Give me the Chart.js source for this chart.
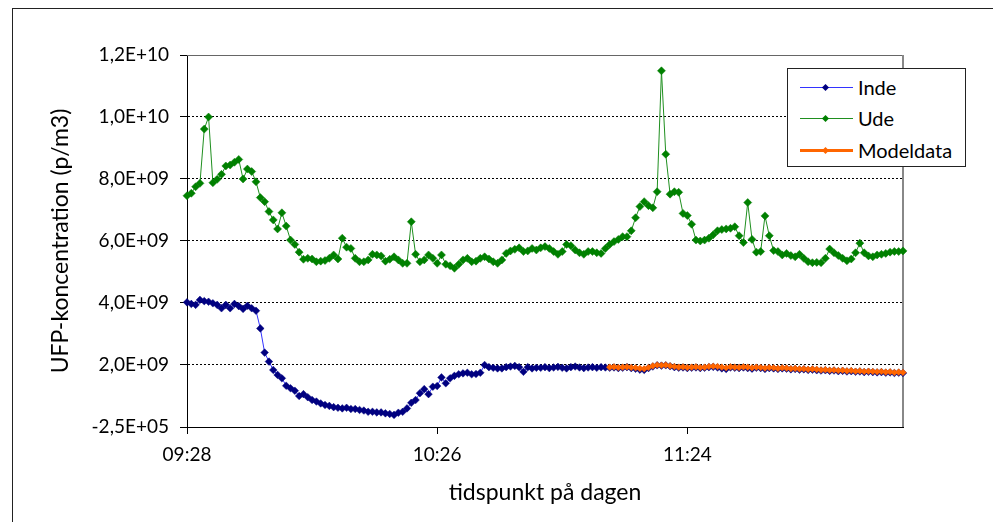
<!DOCTYPE html>
<html>
<head>
<meta charset="utf-8">
<script src="https://cdn.jsdelivr.net/npm/chart.js"></script>
<style>
  body { margin: 0; background: #fff; }
  #wrap { position: relative; width: 993px; height: 522px; overflow: hidden; background: #fff; }
  #frame { position: absolute; left: 12px; top: 8px; width: 1100px; height: 600px;
           border-left: 1px solid #222; border-top: 1px solid #222; }
  canvas { position: absolute; left: 0; top: 0; }
  #legend { position: absolute; left: 787px; top: 68px; width: 179px; height: 99px;
            border: 1px solid #222; background: #fff; box-sizing: border-box;
            font-family: Lato, sans-serif; font-size: 20px; color: #000; }
  .item { position: absolute; left: 0; width: 100%; height: 22px; }
  .item .ln { position: absolute; left: 12px; width: 53px; }
  .item .pt { position: absolute; left: 35px; width: 5px; height: 5px; transform: rotate(45deg); }
  .item .tx { position: absolute; left: 70px; top: 0; line-height: 22px; }
</style>
</head>
<body>
<div id="wrap">
  <div id="frame"></div>
  <canvas id="chart" width="993" height="522"></canvas>
  <div id="legend"></div>
</div>
<script>
// values in units of 1E9 particles per m3, one sample per minute from 09:28
const startTime = '09:28';

const ude = [
  7.46, 7.54, 7.75, 7.86, 9.61, 10.0, 7.88, 7.99, 8.15, 8.42,
  8.45, 8.54, 8.63, 8.00, 8.32, 8.24, 7.91, 7.40, 7.27, 6.95,
  6.68, 6.39, 6.91, 6.48, 6.03, 5.89, 5.64, 5.41, 5.44, 5.42,
  5.33, 5.35, 5.37, 5.44, 5.55, 5.42, 6.09, 5.80, 5.76, 5.44,
  5.33, 5.33, 5.39, 5.57, 5.55, 5.52, 5.35, 5.41, 5.49, 5.39,
  5.28, 5.28, 6.62, 5.57, 5.33, 5.39, 5.55, 5.44, 5.28, 5.55,
  5.25, 5.20, 5.12, 5.25, 5.39, 5.44, 5.33, 5.35, 5.44, 5.49,
  5.42, 5.33, 5.28, 5.39, 5.60, 5.68, 5.73, 5.78, 5.66, 5.68,
  5.76, 5.71, 5.78, 5.82, 5.76, 5.66, 5.57, 5.66, 5.89, 5.85,
  5.71, 5.62, 5.57, 5.66, 5.66, 5.62, 5.60, 5.76, 5.89, 5.98,
  6.05, 6.14, 6.14, 6.33, 6.75, 7.11, 7.27, 7.14, 7.07, 7.59,
  11.49, 8.80, 7.51, 7.59, 7.57, 6.89, 6.82, 6.54, 6.03, 6.00,
  6.03, 6.09, 6.20, 6.33, 6.37, 6.39, 6.41, 6.46, 6.17, 5.95,
  7.24, 6.05, 5.64, 5.66, 6.81, 6.17, 5.69, 5.66, 5.55, 5.60,
  5.53, 5.49, 5.57, 5.44, 5.33, 5.30, 5.31, 5.30, 5.44, 5.74,
  5.62, 5.53, 5.44, 5.36, 5.42, 5.62, 5.93, 5.62, 5.52, 5.49,
  5.55, 5.57, 5.60, 5.64, 5.66, 5.66, 5.68
];

const inde = [
  4.02, 3.97, 3.94, 4.10, 4.06, 4.04, 3.99, 3.94, 3.83, 3.94,
  3.83, 3.97, 3.90, 3.81, 3.91, 3.83, 3.75, 3.18, 2.40, 2.11,
  1.84, 1.68, 1.57, 1.33, 1.25, 1.17, 1.00, 1.06, 0.96, 0.87,
  0.82, 0.76, 0.71, 0.68, 0.64, 0.62, 0.60, 0.62, 0.58, 0.58,
  0.55, 0.53, 0.49, 0.49, 0.47, 0.47, 0.44, 0.42, 0.39, 0.46,
  0.49, 0.60, 0.78, 0.87, 1.09, 1.22, 1.06, 1.30, 1.32, 1.60,
  1.41, 1.57, 1.65, 1.70, 1.73, 1.75, 1.70, 1.71, 1.75, 2.00,
  1.93, 1.91, 1.89, 1.89, 1.93, 1.95, 1.97, 1.93, 1.78, 1.93,
  1.89, 1.91, 1.91, 1.93, 1.90, 1.92, 1.94, 1.91, 1.89, 1.93,
  1.95, 1.92, 1.90, 1.92, 1.93, 1.91, 1.93, 1.92, 1.91, 1.92,
  1.90, 1.91, 1.93, 1.90, 1.88, 1.85, 1.84, 1.90, 1.95, 1.99,
  1.98, 1.99, 1.96, 1.93, 1.91, 1.92, 1.90, 1.91, 1.92, 1.90,
  1.91, 1.93, 1.94, 1.92, 1.89, 1.87, 1.92, 1.91, 1.90, 1.92,
  1.90, 1.88, 1.91, 1.90, 1.87, 1.90, 1.89, 1.87, 1.89, 1.88,
  1.86, 1.87, 1.85, 1.86, 1.84, 1.85, 1.83, 1.82, 1.83, 1.81,
  1.82, 1.80, 1.81, 1.79, 1.80, 1.78, 1.79, 1.77, 1.78, 1.77,
  1.76, 1.77, 1.75, 1.76, 1.74, 1.75, 1.74
];

// model series starts at sample 98 (11:06)
const modelStart = 98;
const modeldata = [
  1.93, 1.94, 1.92, 1.93, 1.94, 1.92, 1.91, 1.89, 1.88, 1.92,
  1.97, 2.00, 1.99, 2.00, 1.97, 1.95, 1.93, 1.94, 1.92, 1.93,
  1.94, 1.92, 1.93, 1.95, 1.96, 1.95, 1.93, 1.91, 1.94, 1.93,
  1.92, 1.94, 1.93, 1.91, 1.93, 1.92, 1.90, 1.92, 1.91, 1.89,
  1.91, 1.90, 1.88, 1.89, 1.87, 1.88, 1.86, 1.87, 1.86, 1.84,
  1.85, 1.83, 1.84, 1.82, 1.83, 1.81, 1.82, 1.80, 1.81, 1.79,
  1.80, 1.79, 1.78, 1.79, 1.77, 1.78, 1.76, 1.77, 1.76
];

const xTickPos = [0, 58, 116];
const xTickLabels = ['09:28', '10:26', '11:24'];
const yTickPos = [-2.5e5, 2e9, 4e9, 6e9, 8e9, 1e10, 1.2e10];
const yTickLabels = ['-2,5E+05', '2,0E+09', '4,0E+09', '6,0E+09', '8,0E+09', '1,0E+10', '1,2E+10'];

const toPts = (arr, offset) => arr.map((v, i) => ({ x: i + offset, y: v * 1e9 }));

const series = [
  { label: 'Inde', data: toPts(inde, 0), line: '#3333ff', mark: '#000080', width: 1, radius: 3.8, order: 2 },
  { label: 'Ude', data: toPts(ude, 0), line: '#1f8f1f', mark: '#008000', width: 1, radius: 4, order: 1 },
  { label: 'Modeldata', data: toPts(modeldata, modelStart), line: '#ff6600', mark: '#ff6600', width: 2.5, radius: 3.3, order: 0 }
];

const tickFont = { family: 'Lato', size: 19 };
const titleFont = { family: 'Lato', size: 23 };

const plotFrame = {
  id: 'plotFrame',
  beforeDatasetsDraw(c) {
    const { ctx, chartArea: a } = c;
    ctx.save();
    ctx.strokeStyle = '#666';
    ctx.lineWidth = 1;
    ctx.beginPath();
    ctx.moveTo(a.left, a.top + 0.5);
    ctx.lineTo(a.right, a.top + 0.5);
    ctx.stroke();
    ctx.strokeStyle = '#888';
    ctx.lineWidth = 2;
    ctx.beginPath();
    ctx.moveTo(a.right, a.top);
    ctx.lineTo(a.right, a.bottom);
    ctx.stroke();
    ctx.restore();
  }
};

new Chart(document.getElementById('chart'), {
  type: 'line',
  data: {
    datasets: series.map(s => ({
      label: s.label,
      data: s.data,
      borderColor: s.line,
      borderWidth: s.width,
      backgroundColor: s.mark,
      pointBackgroundColor: s.mark,
      pointBorderColor: s.mark,
      pointBorderWidth: 0.5,
      pointStyle: 'rectRot',
      pointRadius: s.radius,
      tension: 0,
      clip: false,
      order: s.order
    }))
  },
  options: {
    responsive: false,
    animation: false,
    events: [],
    layout: { padding: { left: 43, top: 55, right: 90, bottom: 12 } },
    plugins: { legend: { display: false }, tooltip: { enabled: false } },
    scales: {
      x: {
        type: 'linear',
        min: 0,
        max: 166,
        afterBuildTicks: s => { s.ticks = xTickPos.map(v => ({ value: v })); },
        afterFit: s => { s.height = 83; },
        ticks: { callback: (v, i) => xTickLabels[i], font: tickFont, color: '#000', padding: 9, maxRotation: 0, autoSkip: false },
        grid: { drawOnChartArea: false, color: '#000', tickLength: 7 },
        border: { color: '#000', width: 1 },
        title: { display: true, text: 'tidspunkt på dagen', font: titleFont, color: '#000' }
      },
      y: {
        min: -2.5e5,
        max: 1.2e10,
        afterBuildTicks: s => { s.ticks = yTickPos.map(v => ({ value: v })); },
        afterFit: s => { s.width = 144; },
        ticks: { callback: (v, i) => yTickLabels[i], font: tickFont, color: '#000', padding: 11 },
        grid: { color: '#000', lineWidth: 1, tickLength: 7, tickBorderDash: [], tickColor: '#000' },
        border: { color: '#000', width: 1, dash: [2, 2] },
        title: { display: true, text: 'UFP-koncentration (p/m3)', font: titleFont, color: '#000' }
      }
    }
  },
  plugins: [plotFrame]
});

// legend box
const legend = document.getElementById('legend');
const rowTops = [7, 38, 70];
series.forEach((s, i) => {
  const row = document.createElement('div');
  row.className = 'item';
  row.style.top = rowTops[i] + 'px';
  const h = s.width > 1 ? 3 : 1;
  row.innerHTML =
    '<div class="ln" style="top:' + (11 - Math.floor(h / 2)) + 'px;height:' + h + 'px;background:' + s.line + '"></div>' +
    '<div class="pt" style="top:9px;background:' + s.mark + '"></div>' +
    '<div class="tx">' + s.label + '</div>';
  legend.appendChild(row);
});
</script>
</body>
</html>
